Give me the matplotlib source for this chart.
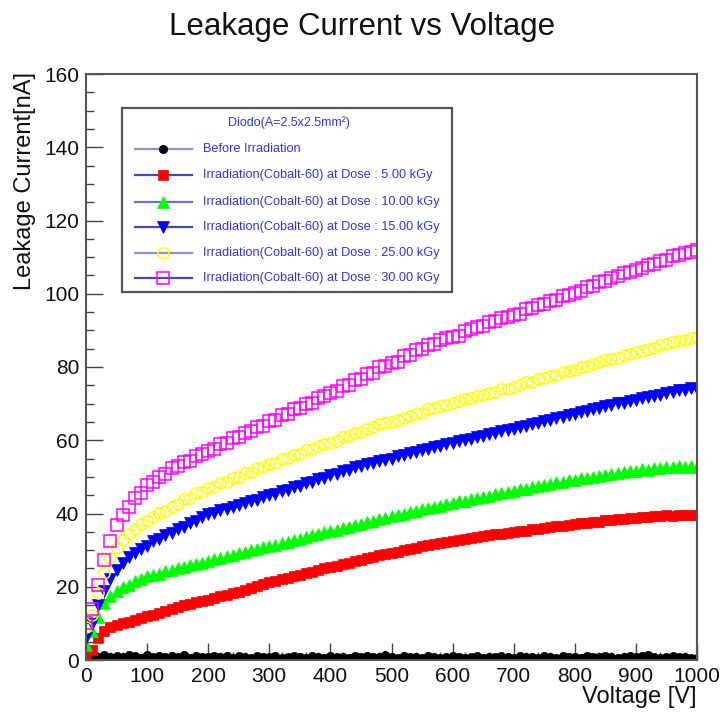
import matplotlib
matplotlib.use("Agg")
import matplotlib.pyplot as plt
from matplotlib.lines import Line2D
from matplotlib.patches import Rectangle
from matplotlib.ticker import MultipleLocator

plt.rcParams['font.family'] = ['Liberation Sans', 'DejaVu Sans']

voltage = [0, 10, 20, 30, 40, 50, 60, 70, 80, 90,
           100, 110, 120, 130, 140, 150, 160, 170, 180, 190,
           200, 210, 220, 230, 240, 250, 260, 270, 280, 290,
           300, 310, 320, 330, 340, 350, 360, 370, 380, 390,
           400, 410, 420, 430, 440, 450, 460, 470, 480, 490,
           500, 510, 520, 530, 540, 550, 560, 570, 580, 590,
           600, 610, 620, 630, 640, 650, 660, 670, 680, 690,
           700, 710, 720, 730, 740, 750, 760, 770, 780, 790,
           800, 810, 820, 830, 840, 850, 860, 870, 880, 890,
           900, 910, 920, 930, 940, 950, 960, 970, 980, 990,
           1000]

before_irr = [0.6, 1.2, 0.9, 1.4, 0.8, 1.1, 0.7, 1.3, 1.0, 0.6,
              1.5, 0.9, 1.2, 0.7, 1.1, 0.8, 1.3, 0.6, 1.0, 0.9,
              0.7, 1.2, 0.8, 1.0, 0.5, 1.1, 0.9, 0.6, 1.2, 0.8,
              0.7, 1.0, 0.6, 0.9, 1.1, 0.7, 0.5, 1.0, 0.8, 0.6,
              1.1, 0.7, 0.9, 0.6, 1.0, 0.8, 1.2, 0.7, 0.9, 1.3,
              0.8, 0.6, 1.0, 0.7, 0.9, 0.5, 1.1, 0.8, 0.6, 0.9,
              1.0, 0.7, 0.5, 0.8, 1.1, 0.6, 0.9, 0.7, 1.0, 0.8,
              0.6, 1.2, 0.7, 0.9, 0.5, 1.0, 0.8, 0.6, 1.1, 0.7,
              0.9, 0.6, 1.0, 0.8, 0.7, 1.2, 0.9, 0.5, 0.8, 1.1,
              0.7, 1.0, 1.3, 0.8, 0.6, 0.9, 1.1, 0.7, 0.8, 0.6,
              0.5]

dose_5 = [1.0, 2.8, 5.9, 7.8, 8.9, 9.6, 10.1, 10.5, 11.0, 11.4,
          11.9, 12.3, 12.8, 13.4, 13.8, 14.4, 14.9, 15.2, 15.8, 16.1,
          16.5, 16.9, 17.4, 17.8, 18.3, 18.6, 19.2, 19.6, 20.3, 20.7,
          21.2, 21.5, 22.0, 22.4, 22.9, 23.2, 23.8, 24.1, 24.6, 25.0,
          25.3, 25.7, 26.2, 26.5, 27.0, 27.3, 27.8, 28.1, 28.6, 28.9,
          29.2, 29.6, 30.0, 30.3, 30.7, 31.0, 31.4, 31.6, 32.0, 32.3,
          32.6, 32.8, 33.1, 33.4, 33.5, 33.9, 34.0, 34.3, 34.5, 34.8,
          34.9, 35.2, 35.3, 35.7, 35.8, 36.1, 36.2, 36.5, 36.6, 36.9,
          37.0, 37.3, 37.4, 37.7, 37.8, 38.1, 38.2, 38.5, 38.5, 38.8,
          38.9, 39.1, 39.0, 39.3, 39.2, 39.5, 39.4, 39.6, 39.5, 39.7,
          39.6]

dose_10 = [4.2, 7.9, 11.8, 15.6, 17.6, 18.9, 19.8, 20.6, 21.5, 22.0,
           22.8, 23.3, 23.6, 24.2, 24.5, 25.1, 25.4, 25.9, 26.3, 26.6,
           27.1, 27.5, 27.9, 28.4, 28.6, 29.2, 29.5, 30.0, 30.3, 30.8,
           31.1, 31.5, 32.0, 32.3, 32.9, 33.1, 33.6, 34.0, 34.4, 34.9,
           35.2, 35.6, 36.1, 36.4, 36.9, 37.2, 37.7, 38.0, 38.5, 38.8,
           39.2, 39.6, 40.0, 40.4, 40.7, 41.2, 41.4, 41.9, 42.1, 42.6,
           42.8, 43.3, 43.5, 44.0, 44.2, 44.6, 44.9, 45.3, 45.5, 46.0,
           46.1, 46.6, 46.8, 47.2, 47.4, 47.9, 48.0, 48.5, 48.6, 49.1,
           49.2, 49.6, 49.7, 50.1, 50.2, 50.6, 50.7, 51.1, 51.2, 51.6,
           51.7, 52.1, 52.0, 52.5, 52.3, 52.8, 52.6, 53.0, 52.7, 53.0,
           52.6]

dose_15 = [6.0, 9.8, 14.9, 18.8, 22.1, 24.7, 26.6, 28.0, 29.1, 30.2,
           31.0, 32.4, 33.1, 34.0, 34.6, 35.8, 36.4, 37.5, 38.0, 39.1,
           39.8, 40.2, 40.9, 41.3, 41.8, 42.4, 42.9, 43.5, 43.8, 44.6,
           45.0, 45.4, 46.2, 46.5, 47.3, 47.6, 48.4, 48.7, 49.5, 49.8,
           50.4, 50.9, 51.5, 51.8, 52.6, 52.9, 53.4, 53.8, 54.2, 54.6,
           55.0, 55.6, 55.9, 56.5, 56.8, 57.3, 57.6, 58.2, 58.4, 59.0,
           59.2, 59.7, 60.1, 60.4, 61.0, 61.2, 61.8, 62.0, 62.6, 62.8,
           63.2, 63.7, 64.0, 64.5, 64.8, 65.3, 65.5, 66.1, 66.3, 66.9,
           67.1, 67.6, 68.0, 68.4, 68.9, 69.3, 69.6, 70.1, 70.3, 70.8,
           71.0, 71.5, 71.7, 72.2, 72.4, 72.9, 73.1, 73.6, 73.7, 74.2,
           74.0]

dose_25 = [9.1, 12.3, 18.2, 23.8, 27.9, 30.6, 32.8, 34.5, 35.9, 37.2,
           38.0, 39.1, 40.2, 40.6, 41.8, 42.7, 43.9, 44.2, 45.5, 45.8,
           46.9, 47.3, 48.4, 48.7, 49.8, 50.1, 51.0, 51.4, 52.5, 52.7,
           53.4, 53.9, 54.8, 55.1, 56.0, 56.3, 57.4, 57.6, 58.5, 58.9,
           59.3, 59.9, 60.8, 61.1, 62.0, 62.3, 63.2, 63.5, 64.4, 64.8,
           65.1, 65.6, 66.2, 66.7, 67.3, 67.5, 68.5, 68.8, 69.4, 69.6,
           70.2, 70.7, 71.2, 71.6, 72.1, 72.4, 73.0, 73.3, 74.0, 74.1,
           74.6, 75.2, 75.8, 76.0, 76.8, 77.1, 77.5, 77.9, 78.6, 78.8,
           79.3, 79.9, 80.3, 80.7, 81.4, 81.8, 82.2, 82.5, 83.3, 83.5,
           84.1, 84.5, 85.0, 85.3, 86.0, 86.2, 86.7, 87.0, 87.5, 87.8,
           88.3]

dose_30 = [10.2, 14.0, 20.5, 27.3, 32.6, 36.8, 39.5, 41.8, 44.2, 45.6,
           47.9, 48.6, 50.1, 50.8, 52.3, 52.9, 54.1, 54.4, 55.8, 56.2,
           57.1, 57.6, 58.9, 59.3, 60.5, 60.8, 62.0, 62.4, 63.7, 64.0,
           65.2, 65.5, 66.8, 67.1, 68.4, 68.7, 70.0, 70.2, 71.6, 72.1,
           73.0, 73.4, 74.8, 75.1, 76.5, 76.8, 78.1, 78.4, 79.9, 80.2,
           81.1, 81.5, 82.9, 83.2, 84.6, 84.8, 86.0, 86.3, 87.5, 87.9,
           88.2, 88.6, 89.9, 90.3, 91.0, 91.2, 92.3, 92.6, 93.4, 93.7,
           94.1, 94.6, 95.8, 96.0, 96.9, 97.3, 98.0, 98.4, 99.3, 99.6,
           100.2, 100.8, 101.9, 102.1, 103.3, 103.5, 104.2, 104.8, 105.6, 105.9,
           106.4, 106.9, 107.8, 108.1, 109.0, 109.3, 110.2, 110.5, 111.1, 111.4,
           112.0]

labels = ["Before Irradiation",
          "Irradiation(Cobalt-60) at Dose : 5.00 kGy",
          "Irradiation(Cobalt-60) at Dose : 10.00 kGy",
          "Irradiation(Cobalt-60) at Dose : 15.00 kGy",
          "Irradiation(Cobalt-60) at Dose : 25.00 kGy",
          "Irradiation(Cobalt-60) at Dose : 30.00 kGy"]
legend_header = "Diodo(A=2.5x2.5mm²)"

series = [before_irr, dose_5, dose_10, dose_15, dose_25, dose_30]
styles = [
    dict(marker='o', ms=6, mfc='black', mec='black', mew=0.5),
    dict(marker='s', ms=7.5, mfc='#ff0000', mec='#ff0000', mew=0.5),
    dict(marker='^', ms=8, mfc='#00ff00', mec='#00ff00', mew=0.5),
    dict(marker='v', ms=8, mfc='#0000ff', mec='#0000ff', mew=0.5),
    dict(marker='o', ms=8, mfc='none', mec='#ffff00', mew=1.1),
    dict(marker='s', ms=8, mfc='none', mec='#ff00ff', mew=1.1),
]

fig = plt.figure(figsize=(7.25, 7.12), dpi=100)
W, H = 725, 712
ax = fig.add_axes([86 / W, 1 - 660 / H, (697 - 86) / W, (660 - 74) / H])

for ys, st in zip(series, styles):
    ax.plot(voltage, ys, linestyle='none', clip_on=True, **st)

ax.set_xlim(0, 1000)
ax.set_ylim(0, 160)
ax.xaxis.set_major_locator(MultipleLocator(100))
ax.xaxis.set_minor_locator(MultipleLocator(20))
ax.yaxis.set_major_locator(MultipleLocator(20))
ax.yaxis.set_minor_locator(MultipleLocator(5))
ax.tick_params(axis='both', which='major', direction='in', length=12, width=1,
               color='#444444', labelsize=15, labelcolor='#111111')
ax.tick_params(axis='both', which='minor', direction='in', length=6, width=1,
               color='#444444')
ax.tick_params(axis='x', which='major', pad=5)
ax.tick_params(axis='y', which='major', pad=5)
ax.tick_params(top=False, right=False, which='both')
for sp in ax.spines.values():
    sp.set_color('#555555')
    sp.set_linewidth(1.5)

fig.text(362 / W, 1 - 35 / H, "Leakage Current vs Voltage", fontsize=22.5,
         ha='center', va='baseline', color='#111111')
fig.text(25 / W, 1 - 72 / H, "Leakage Current[nA]", fontsize=17, rotation=90,
         ha='center', va='top', color='#111111')
fig.text(697 / W, 1 - 703 / H, "Voltage [V]", fontsize=17, ha='right',
         va='baseline', color='#111111')

# legend box (ROOT TLegend style)
lx0, lx1, ly0, ly1 = 122, 452, 108, 292
fig.patches.append(Rectangle((lx0 / W, 1 - ly1 / H), (lx1 - lx0) / W, (ly1 - ly0) / H,
                             transform=fig.transFigure, facecolor='white',
                             edgecolor='#555555', linewidth=1.6, zorder=5))
txt_color = '#3434dd'
fig.text(289 / W, 1 - 123 / H, legend_header, fontsize=9, ha='center', va='center',
         color=txt_color, zorder=6)
row_y = [149, 175, 202, 227, 253, 278]
line_cols = ['#9090d8', '#4848b8', '#7070c8', '#4848b8', '#9090d8', '#4848b8']
for yy, lab, st, lc in zip(row_y, labels, styles, line_cols):
    fy = 1 - yy / H
    fig.lines.append(Line2D([135 / W, 192 / W], [fy, fy], transform=fig.transFigure,
                            color=lc, linewidth=1.6, zorder=6))
    fig.lines.append(Line2D([163 / W], [fy], transform=fig.transFigure,
                            linestyle='none', zorder=7, **st))
    fig.text(203 / W, fy, lab, fontsize=9.2, ha='left', va='center',
             color=txt_color, zorder=7)

fig.savefig("out.png", dpi=100)
